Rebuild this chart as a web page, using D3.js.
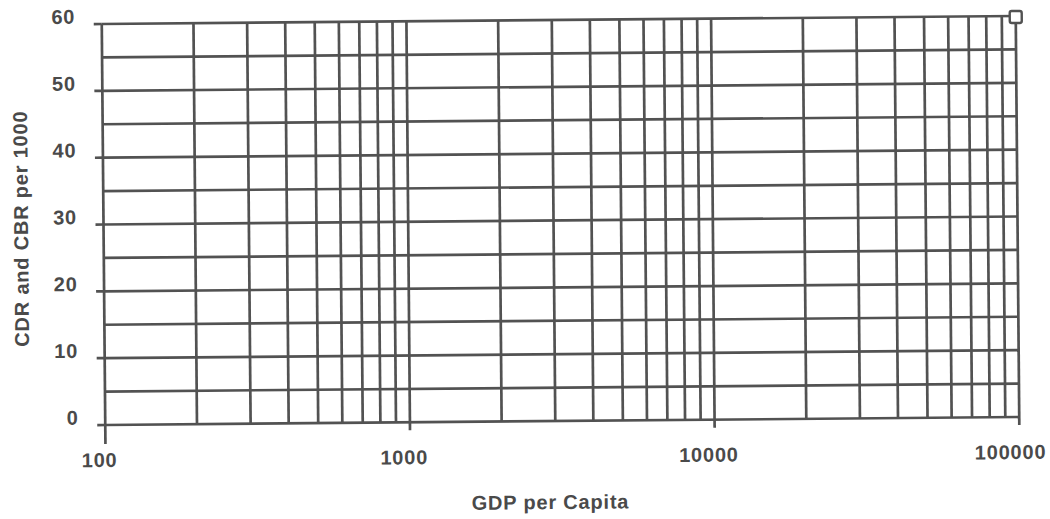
<!DOCTYPE html>
<html>
<head>
<meta charset="utf-8">
<script src="https://cdn.jsdelivr.net/npm/d3@7/dist/d3.min.js"></script>
<style>
  html, body { margin: 0; padding: 0; background: #fff; }
  svg { display: block; }
  text { font-family: "Liberation Sans", Arial, sans-serif; font-weight: bold; fill: #4a4a4a; letter-spacing: 0.8px; }
</style>
</head>
<body>
<svg id="chart" width="1050" height="519"></svg>
<script>
// Axis ranges and labels
const xDomain = [100, 100000];
const yDomain = [0, 60];
const xMajorTicks = [100, 1000, 10000, 100000];
const xTickLabels = ["100", "1000", "10000", "100000"];
const yMajorTicks = [0, 10, 20, 30, 40, 50, 60];
const yMinorTicks = [5, 15, 25, 35, 45, 55];
const xLabel = "GDP per Capita";
const yLabel = "CDR and CBR per 1000";
// Single plotted point
const pointsX = [100000];
const pointsY = [60];

const svg = d3.select("#chart");
const plot = { left: 103.5, right: 1017.5, top: 20, bottom: 421 };

const x = d3.scaleLog().domain(xDomain).range([plot.left, plot.right]);
const y = d3.scaleLinear().domain(yDomain).range([plot.bottom, plot.top]);

// Vertical grid lines at every 1..9 multiple within each decade
const xGrid = [];
for (let d = xDomain[0]; d < xDomain[1]; d *= 10) {
  for (let m = 1; m < 10; m++) xGrid.push(d * m);
}
xGrid.push(xDomain[1]);

const lineColor = "#525252";
const lineWidth = 2.7;

// The whole sheet sits slightly askew
const cx = (plot.left + plot.right) / 2, cy = (plot.top + plot.bottom) / 2;
const g = svg.append("g").attr("transform", `rotate(-0.5 ${cx} ${cy})`);

g.selectAll("line.vgrid").data(xGrid).enter().append("line")
  .attr("class", "vgrid")
  .attr("x1", d => x(d)).attr("x2", d => x(d))
  .attr("y1", y(60)).attr("y2", y(0))
  .attr("stroke", lineColor).attr("stroke-width", lineWidth);

g.selectAll("line.hgrid").data(yMajorTicks.concat(yMinorTicks)).enter().append("line")
  .attr("class", "hgrid")
  .attr("x1", x(100)).attr("x2", x(100000))
  .attr("y1", d => y(d)).attr("y2", d => y(d))
  .attr("stroke", lineColor).attr("stroke-width", lineWidth);

// Y axis tick marks and labels
g.selectAll("line.ytick").data(yMajorTicks).enter().append("line")
  .attr("x1", x(100) - 8).attr("x2", x(100))
  .attr("y1", d => y(d)).attr("y2", d => y(d))
  .attr("stroke", lineColor).attr("stroke-width", lineWidth);

g.selectAll("text.ylab").data(yMajorTicks).enter().append("text")
  .attr("x", 77).attr("y", d => y(d) - 0.5)
  .attr("text-anchor", "end")
  .attr("font-size", 20)
  .text(d => d);

// X axis tick marks and labels
g.selectAll("line.xtick").data(xMajorTicks).enter().append("line")
  .attr("x1", d => x(d)).attr("x2", d => x(d))
  .attr("y1", y(0)).attr("y2", (d, i) => y(0) + (i === 0 ? 19 : 8))
  .attr("stroke", lineColor).attr("stroke-width", lineWidth);

g.selectAll("text.xlab").data(xMajorTicks).enter().append("text")
  .attr("x", (d, i) => x(d) - (i === xMajorTicks.length - 1 ? 9 : 6))
  .attr("y", 463)
  .attr("text-anchor", "middle")
  .attr("font-size", 20)
  .text((d, i) => xTickLabels[i]);

// Axis titles
g.append("text")
  .attr("x", 548).attr("y", 509)
  .attr("text-anchor", "middle")
  .attr("font-size", 20)
  .text(xLabel);

g.append("text")
  .attr("transform", "translate(28,224) rotate(-90)")
  .attr("text-anchor", "middle")
  .attr("font-size", 20)
  .text(yLabel);

// Data point marker
g.selectAll("rect.pt").data(pointsX).enter().append("rect")
  .attr("x", d => x(d) - 6)
  .attr("y", (d, i) => y(pointsY[i]) - 5)
  .attr("width", 12).attr("height", 12)
  .attr("rx", 2)
  .attr("fill", "#fff")
  .attr("stroke", lineColor).attr("stroke-width", 2.4);
</script>
</body>
</html>
